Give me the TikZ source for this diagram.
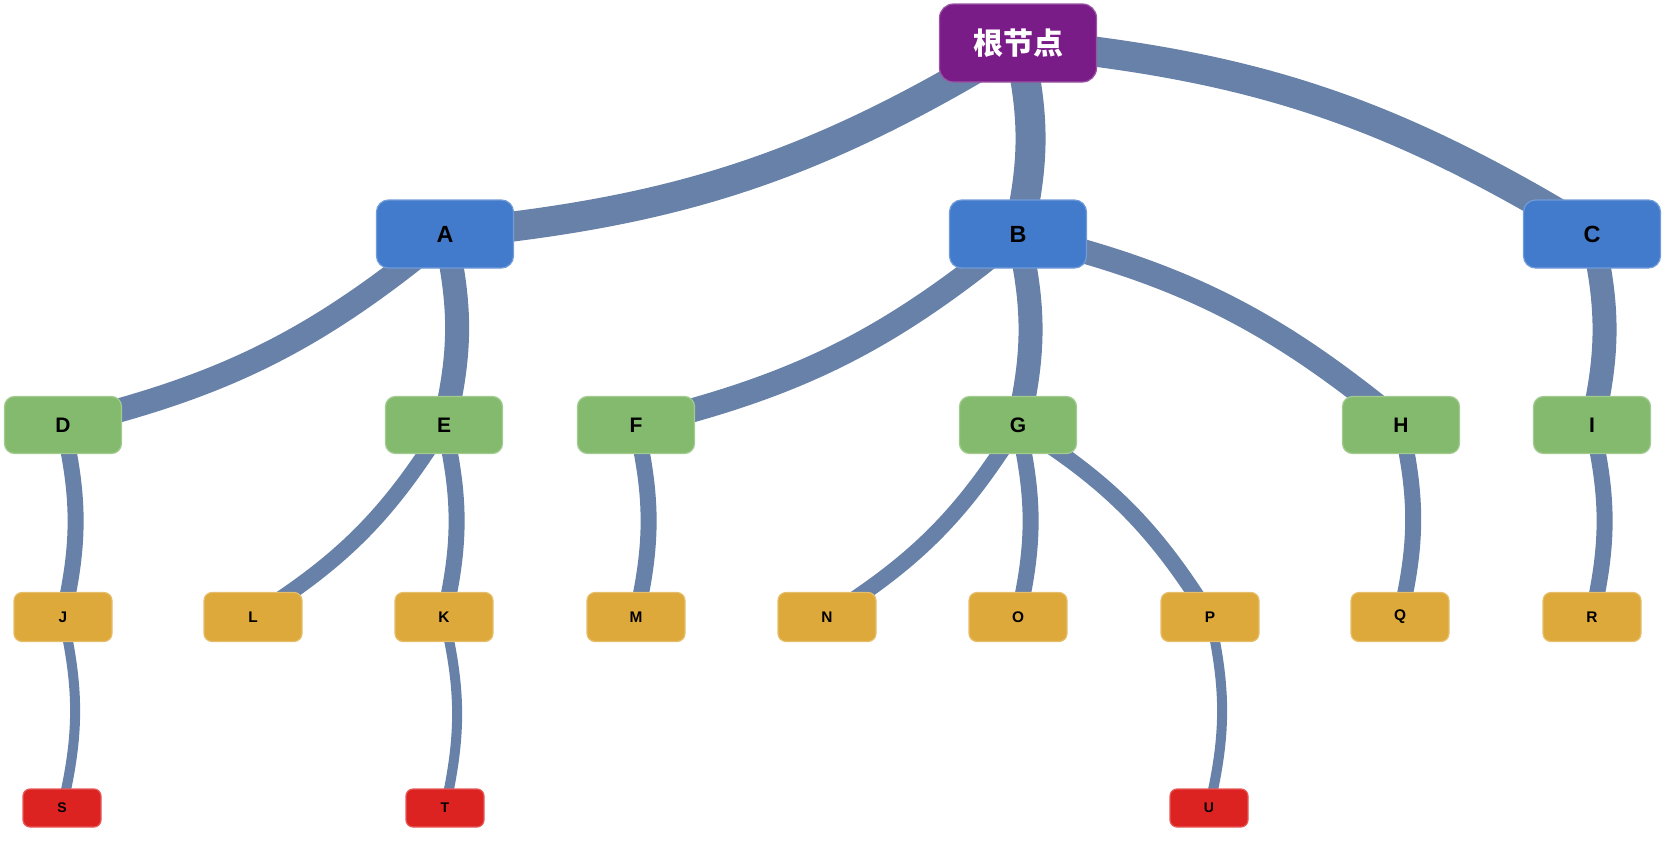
\documentclass[tikz,border=0pt]{standalone}
\usepackage{fontspec}
\setmainfont{Liberation Sans}
\newfontfamily\cjk{Noto Sans CJK SC}
\usetikzlibrary{backgrounds}
\definecolor{linkc}{RGB}{103,129,168}
\definecolor{rootc}{RGB}{122,28,135}
\definecolor{bluec}{RGB}{66,123,203}
\definecolor{greenc}{RGB}{132,186,109}
\definecolor{goldc}{RGB}{221,169,58}
\definecolor{redc}{RGB}{220,35,34}
\begin{document}
\begin{tikzpicture}[x=.5pt,y=-.5pt,
 box/.style={rounded corners=#1,inner sep=0pt,line width=.6pt},
 top/.style={box=7pt,fill=rootc,draw=rootc!75!white,minimum width=78.5pt,minimum height=39pt,text=white,font=\cjk\bfseries\fontsize{15}{15}\selectfont},
 lone/.style={box=6pt,fill=bluec,draw=bluec!75!white,minimum width=68.5pt,minimum height=34pt,font=\bfseries\fontsize{11.7}{12}\selectfont},
 ltwo/.style={box=5pt,fill=greenc,draw=greenc!75!white,minimum width=58.5pt,minimum height=28.5pt,font=\bfseries\fontsize{10.5}{11}\selectfont},
 lthree/.style={box=4pt,fill=goldc,draw=goldc!75!white,minimum width=49pt,minimum height=24.5pt,font=\bfseries\fontsize{7.7}{8}\selectfont},
 lfour/.style={box=3.5pt,fill=redc,draw=redc!75!white,minimum width=39pt,minimum height=19pt,font=\bfseries\fontsize{7}{8}\selectfont},
 link/.style={linkc,line width=#1,bend left=13}]
 \useasboundingbox (0,0) rectangle (1667,841);
 \node[top] (root) at (1018,43) {根节点};
 \foreach \n/\x in {A/445,B/1018,C/1592} \node[lone] (\n) at (\x,234) {\n};
 \foreach \n/\x in {D/63,E/444,F/636,G/1018,H/1401,I/1592} \node[ltwo] (\n) at (\x,425) {\n};
 \foreach \n/\x in {J/63,L/253,K/444,M/636,N/827,O/1018,P/1210,Q/1400,R/1592} \node[lthree] (\n) at (\x,617) {\n};
 \foreach \n/\x in {S/62,T/445,U/1209} \node[lfour] (\n) at (\x,808) {\n};
 % links behind the boxes
 \begin{scope}[on background layer]
 \foreach \p/\c in {root/A,root/B,root/C} \draw[link=15pt] (\p.center) to (\c.center);
 \foreach \p/\c in {A/D,A/E,B/F,B/G,B/H,C/I} \draw[link=12pt] (\p.center) to (\c.center);
 \foreach \p/\c in {D/J,E/L,E/K,F/M,G/N,G/O,G/P,H/Q,I/R} \draw[link=8pt] (\p.center) to (\c.center);
 \foreach \p/\c in {J/S,K/T,P/U} \draw[link=5pt] (\p.center) to (\c.center);
 \end{scope}
\end{tikzpicture}
\end{document}
